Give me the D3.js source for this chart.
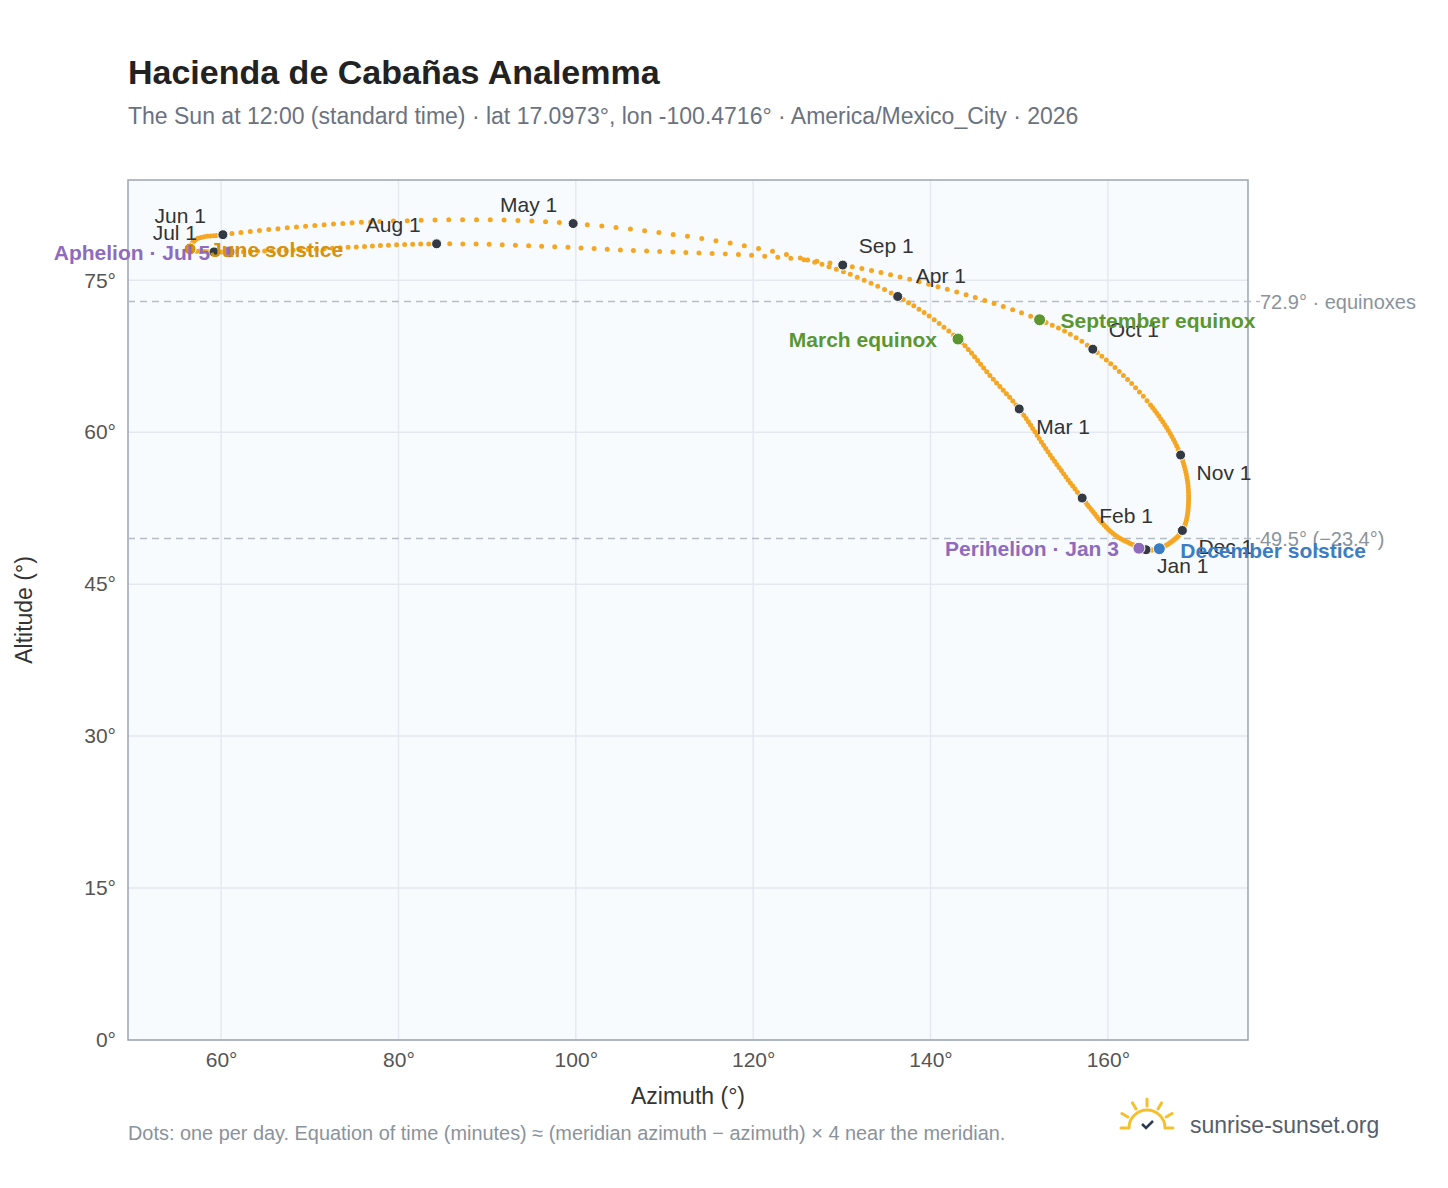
<!DOCTYPE html>
<html><head><meta charset="utf-8">
<script src="https://cdn.jsdelivr.net/npm/d3@7"></script>
<style>body{margin:0;background:#fff;font-family:"Liberation Sans",Arial,sans-serif}</style>
</head><body>
<svg id="chart" width="1448" height="1188"></svg>
<script>
// key points: [day of year, azimuth, altitude]
var pathDays = [1,15,32,46,60,69,79,91,105,121,135,152,161,172,182,186,196,213,227,244,265,274,288,305,319,335,355,365];
var pathAz  = [164.3,160.8,157.1,153.5,150.0,146.7,143.1,136.3,125.3,99.7,77.9,60.2,57.1,56.5,59.2,60.9,68.9,84.3,105.0,130.1,152.3,158.3,164.8,168.2,169.1,168.4,165.8,164.3];
var pathAlt = [48.4,49.85,53.5,57.75,62.3,65.6,69.2,73.4,77.2,80.6,80.8,79.5,79.0,78.1,77.8,77.8,78.0,78.6,78.0,76.5,71.1,68.2,62.7,57.75,53.8,50.3,48.5,48.4];

var months = ["Jan 1","Feb 1","Mar 1","Apr 1","May 1","Jun 1","Jul 1","Aug 1","Sep 1","Oct 1","Nov 1","Dec 1"];
var monthAz  = [164.3,157.1,150.0,136.3,99.7,60.2,59.2,84.3,130.1,158.3,168.2,168.4];
var monthAlt = [48.4,53.5,62.3,73.4,80.6,79.5,77.8,78.6,76.5,68.2,57.75,50.3];
var monthLab = [[11,23,"start"],[17,25,"start"],[17,25,"start"],[18,-13,"start"],[-16,-12,"end"],[-17,-12,"end"],[-17,-12,"end"],[-16,-12,"end"],[16,-12,"start"],[16,-12,"start"],[16,25,"start"],[16,24,"start"]];

var events = ["June solstice","Aphelion · Jul 5","March equinox","September equinox","Perihelion · Jan 3","December solstice"];
var eventAz  = [56.5,60.9,143.1,152.3,163.5,165.8];
var eventAlt = [78.1,77.8,69.2,71.1,48.55,48.5];
var eventCol = ["#d4920f","#8f6bbd","#5b962e","#5b962e","#8f6bbd","#3b7dc4"];
var eventLab = [[20,8,"start"],[-19,8,"end"],[-21,8,"end"],[21,8,"start"],[-20,8,"end"],[21,9,"start"]];

var refAlt = [72.9,49.5];
var refText = ["72.9° · equinoxes","49.5° (−23.4°)"];

var svg = d3.select("#chart");
var L=128,T=180,W=1120,H=860;
var x = d3.scaleLinear().domain([49.5,175.8]).range([L,L+W]);
var y = d3.scaleLinear().domain([0,84.9]).range([T+H,T]);

svg.append("text").attr("x",128).attr("y",84).attr("font-size",34).attr("font-weight","bold").attr("fill","#222").text("Hacienda de Cabañas Analemma");
svg.append("text").attr("x",128).attr("y",124).attr("font-size",23).attr("fill","#6b7280").text("The Sun at 12:00 (standard time) · lat 17.0973°, lon -100.4716° · America/Mexico_City · 2026");

svg.append("rect").attr("x",L).attr("y",T).attr("width",W).attr("height",H).attr("fill","#f8fbfe");
var xt=[60,80,100,120,140,160], yt=[0,15,30,45,60,75];
svg.selectAll(".gx").data(xt).enter().append("line").attr("x1",x).attr("x2",x).attr("y1",T).attr("y2",T+H).attr("stroke","#e5e9ef").attr("stroke-width",1.5);
svg.selectAll(".gy").data(yt).enter().append("line").attr("y1",y).attr("y2",y).attr("x1",L).attr("x2",L+W).attr("stroke","#e5e9ef").attr("stroke-width",1.5);
svg.append("rect").attr("x",L).attr("y",T).attr("width",W).attr("height",H).attr("fill","none").attr("stroke","#9aa5b1").attr("stroke-width",1.5);

var xa = svg.append("g").attr("transform","translate(0,"+(T+H)+")").call(d3.axisBottom(x).tickValues(xt).tickFormat(function(d){return d+"°";}).tickSize(0).tickPadding(12));
var ya = svg.append("g").attr("transform","translate("+L+",0)").call(d3.axisLeft(y).tickValues(yt).tickFormat(function(d){return d+"°";}).tickSize(0).tickPadding(12));
[xa,ya].forEach(function(a){a.select(".domain").remove();a.selectAll("text").attr("font-size",21).attr("fill","#555").attr("font-family","Liberation Sans, Arial, sans-serif");});
svg.append("text").attr("x",688).attr("y",1104).attr("text-anchor","middle").attr("font-size",23).attr("fill","#333").text("Azimuth (°)");
svg.append("text").attr("transform","translate(32,610) rotate(-90)").attr("text-anchor","middle").attr("font-size",23).attr("fill","#333").text("Altitude (°)");

refAlt.forEach(function(a,i){
  svg.append("line").attr("x1",L).attr("x2",L+W+12).attr("y1",y(a)).attr("y2",y(a)).attr("stroke","#b4bcc6").attr("stroke-width",1.5).attr("stroke-dasharray","7,5");
  svg.append("text").attr("x",1260).attr("y",y(a)+7).attr("font-size",20).attr("fill","#8a939c").text(refText[i]);
});

// analemma: dotted line, dot spacing follows the daily spacing between key points
var pts = pathDays.map(function(d,i){return [x(pathAz[i]),y(pathAlt[i])];});
var line = d3.line().curve(d3.curveCatmullRom.alpha(0.5));
var p = svg.append("path").attr("d",line(pts)).attr("fill","none").attr("stroke","#f5a623").attr("stroke-width",5).attr("stroke-linecap","round");
var tmp = svg.append("path").attr("fill","none");
var lens=[0];
for(var k=1;k<pts.length;k++){ tmp.attr("d",line(pts.slice(0,k+1))); lens.push(tmp.node().getTotalLength()); }
tmp.remove();
var dash=[];
for(var k=1;k<pts.length;k++){
  var n=Math.max(pathDays[k]-pathDays[k-1],1);
  var g=(lens[k]-lens[k-1])/n;
  for(var j=0;j<n;j++){dash.push(0,g);}
}
p.attr("stroke-dasharray",dash.join(" "));

svg.selectAll(".md").data(months).enter().append("circle").attr("cx",function(d,i){return x(monthAz[i]);}).attr("cy",function(d,i){return y(monthAlt[i]);}).attr("r",5).attr("fill","#333a44").attr("stroke","#fff").attr("stroke-width",1);
svg.selectAll(".ml").data(months).enter().append("text").attr("x",function(d,i){return x(monthAz[i])+monthLab[i][0];}).attr("y",function(d,i){return y(monthAlt[i])+monthLab[i][1];}).attr("text-anchor",function(d,i){return monthLab[i][2];}).attr("font-size",21).attr("fill","#333").text(function(d){return d;});

svg.selectAll(".ed").data(events).enter().append("circle").attr("cx",function(d,i){return x(eventAz[i]);}).attr("cy",function(d,i){return y(eventAlt[i]);}).attr("r",6).attr("fill",function(d,i){return eventCol[i];}).attr("stroke","#fff").attr("stroke-width",1);
svg.selectAll(".el").data(events).enter().append("text").attr("x",function(d,i){return x(eventAz[i])+eventLab[i][0];}).attr("y",function(d,i){return y(eventAlt[i])+eventLab[i][1];}).attr("text-anchor",function(d,i){return eventLab[i][2];}).attr("font-size",21).attr("font-weight","bold").attr("fill",function(d,i){return eventCol[i];}).text(function(d){return d;});

svg.append("text").attr("x",128).attr("y",1140).attr("font-size",19.9).attr("fill","#8a939c").text("Dots: one per day. Equation of time (minutes) ≈ (meridian azimuth − azimuth) × 4 near the meridian.");

// logo
var lg = svg.append("g").attr("transform","translate(1147,1128)").attr("stroke","#f6c02c").attr("stroke-width",3).attr("fill","none").attr("stroke-linecap","round");
lg.append("path").attr("d","M-18,0 A18,18 0 0 1 18,0");
lg.append("line").attr("x1",-26).attr("y1",0).attr("x2",-20).attr("y2",0);
lg.append("line").attr("x1",20).attr("y1",0).attr("x2",26).attr("y2",0);
[-60,0,60,-30,30].forEach(function(a){var r=Math.PI*(a-90)/180;lg.append("line").attr("x1",22*Math.cos(r)).attr("y1",22*Math.sin(r)).attr("x2",29*Math.cos(r)).attr("y2",29*Math.sin(r));});
svg.append("path").attr("d","M1142,1124 l4,4 l7,-7").attr("stroke","#2e3a4f").attr("stroke-width",2.5).attr("fill","none");
svg.append("text").attr("x",1190).attr("y",1133).attr("font-size",23).attr("fill","#555e6b").text("sunrise-sunset.org");
</script>
</body></html>
